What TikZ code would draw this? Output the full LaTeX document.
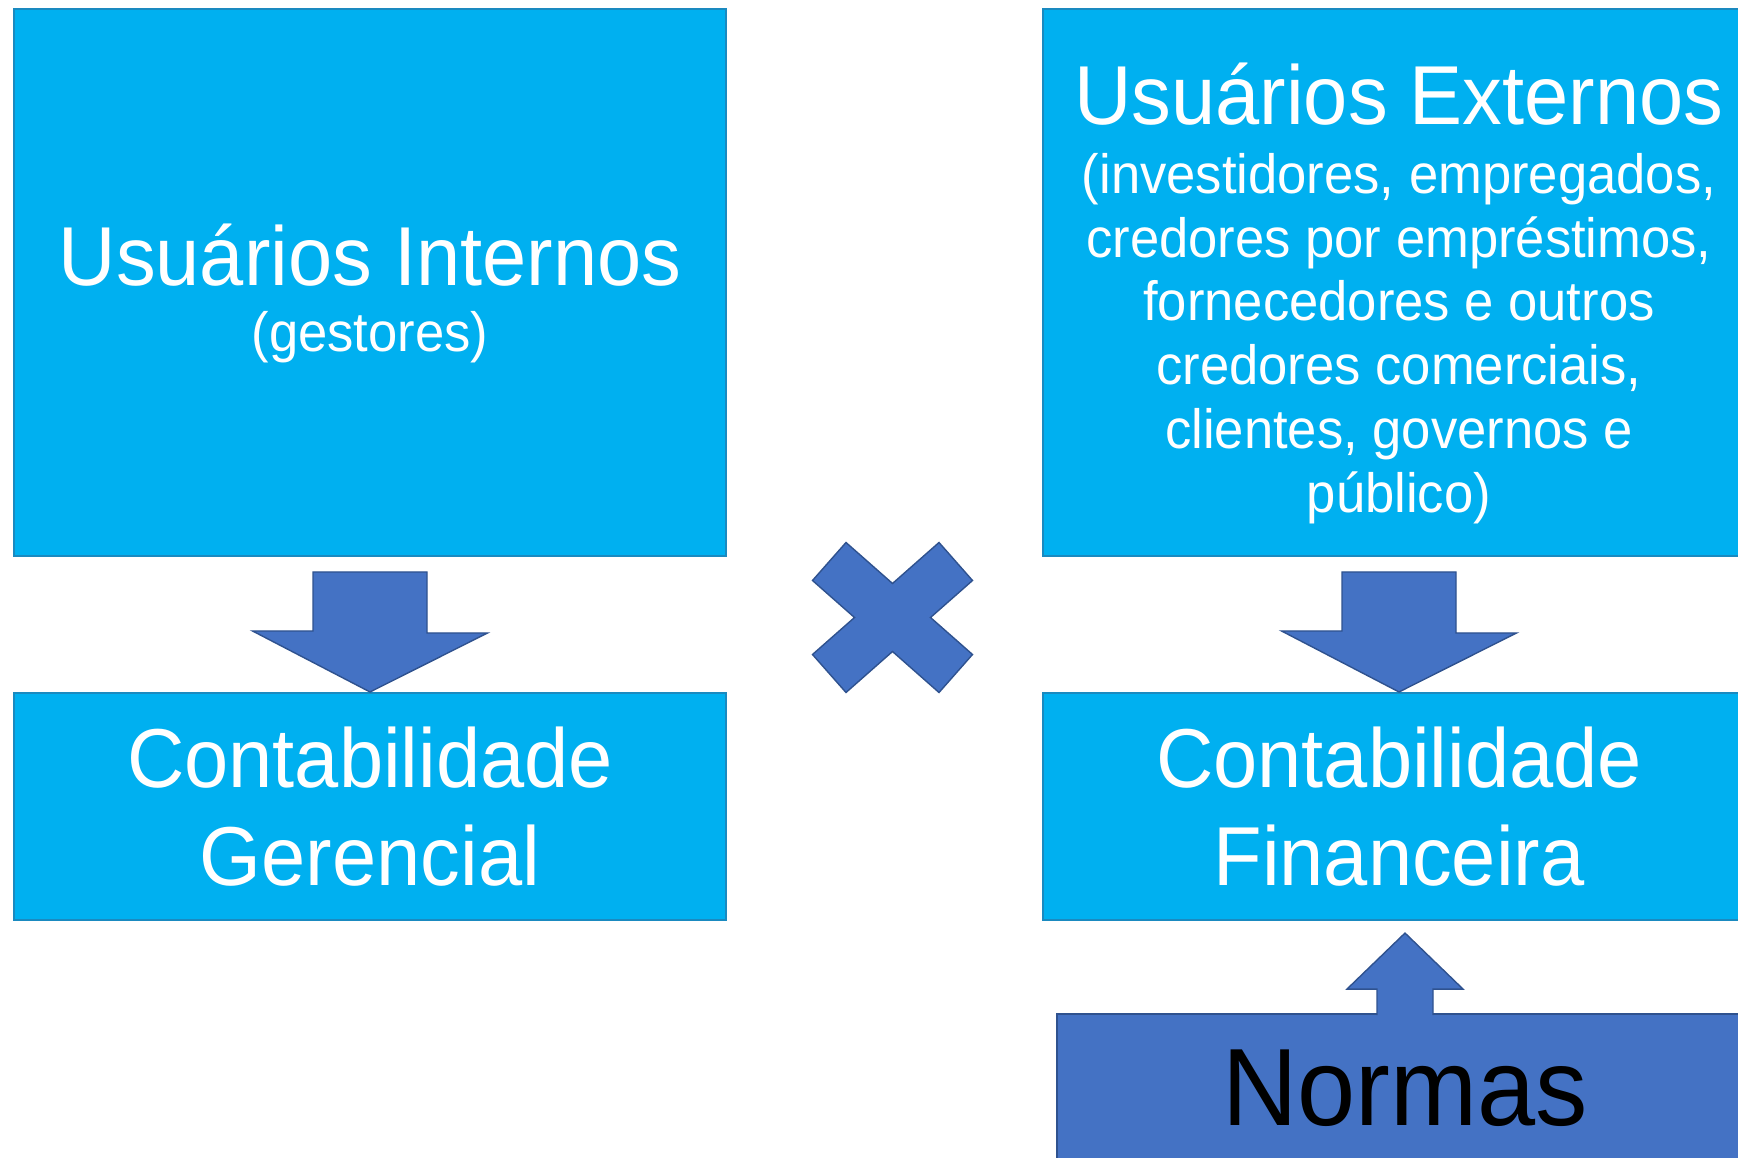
\documentclass[tikz,border=0pt]{standalone}
\usepackage{fontspec}
\setmainfont[FakeStretch=0.95]{Liberation Sans}
\usetikzlibrary{calc}

\definecolor{caixa}{HTML}{00B0F0}
\definecolor{caixaborda}{HTML}{1A8AC0}
\definecolor{seta}{HTML}{4472C4}
\definecolor{setaborda}{HTML}{2F528F}

\tikzset{
	caixa/.style={draw=caixaborda, line width=1.2pt, fill=caixa, text=white, align=center, minimum width=14.24cm, inner sep=0pt},
	usuarios/.style={caixa, minimum height=10.94cm, font=\fontsize{31.5}{36.3}\selectfont},
	contab/.style={caixa, minimum height=4.54cm, font=\fontsize{47.6}{55.8}\selectfont},
	normas/.style={draw=setaborda, line width=1.2pt, fill=seta, text=black, minimum width=13.92cm, minimum height=2.98cm, inner sep=0pt, font=\fontsize{62.6}{75}\selectfont},
	bloco/.style={draw=setaborda, line width=0.8pt, fill=seta, line join=miter},
}
% titulo maior, com altura extra para descer o bloco de texto
\newcommand{\titulo}[1]{{\fontsize{47.6}{55.8}\selectfont\raisebox{0pt}[\dimexpr\height+12.5pt\relax]{#1}}}

\begin{document}
\begin{tikzpicture}[x=0.02cm, y=-0.02cm]
		\useasboundingbox (0,0) rectangle (1738,1158);
		\clip (0,0) rectangle (1738,1158);
		%caixas de cima
		\node[usuarios] (internos) at (370,282.5) {\titulo{Usuários Internos}\\[1.5pt] (gestores)};
		\node[usuarios] (externos) at (1399,282.5) {\titulo{Usuários Externos}\\[2.7pt] (investidores, empregados,\\ credores por empréstimos,\\ fornecedores e outros\\ credores comerciais,\\ clientes, governos e\\ público)};
		%caixas de baixo
		\node[contab] (gerencial) at (370,806.5) {Contabilidade\\ Gerencial};
		\node[contab] (financeira) at (1399,806.5) {Contabilidade\\ Financeira};
		%setas para baixo
		\draw[bloco] ($(internos.south)+(-57,15)$) -- ++(114,0) -- ++(0,61) -- ++(60.5,0) -- (gerencial.north) -- ++(-117.5,-61) -- ++(60.5,0) -- cycle;
		\draw[bloco] ($(externos.south)+(-57,15)$) -- ++(114,0) -- ++(0,61) -- ++(60.5,0) -- (financeira.north) -- ++(-117.5,-61) -- ++(60.5,0) -- cycle;
		%normas e seta para cima
		\node[normas] (normas) at (1405,1088.6) {Normas};
		\draw[bloco] ($(normas.north)+(-28,2)$) -- ++(0,-26) -- ++(-30,0) -- ($(normas.north)+(0,-80)$) -- ++(58,56) -- ++(-30,0) -- ++(0,26);
		%sinal de vezes
		\coordinate (vezes) at (892.5,617.5);
		\draw[bloco, shift={(vezes)}] (-46.5,-75) -- (0,-34) -- (46.5,-75) -- (80,-37) -- (38,0) -- (80,37) -- (46.5,75) -- (0,34) -- (-46.5,75) -- (-80,37) -- (-38,0) -- (-80,-37) -- cycle;
\end{tikzpicture}
\end{document}
